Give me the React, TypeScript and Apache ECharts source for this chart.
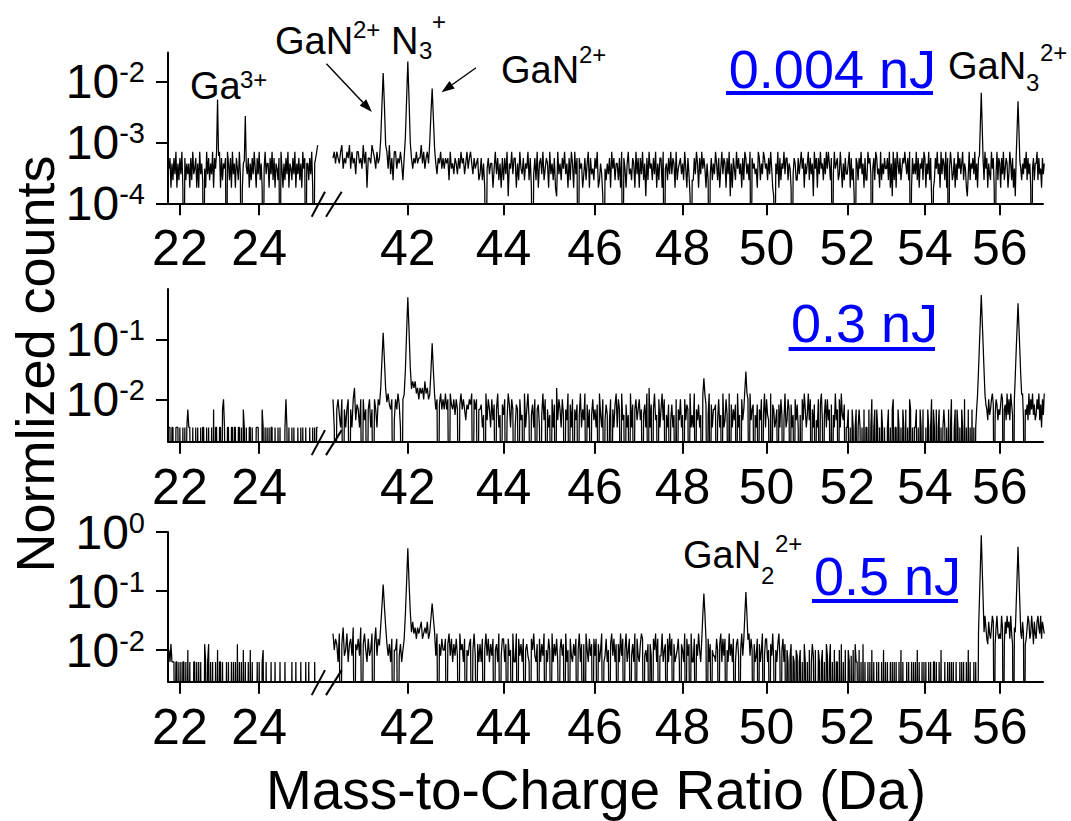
import React, { useEffect, useRef } from "react";
import * as echarts from "echarts";

const FONT = '"Liberation Sans", Arial, Helvetica, sans-serif';

// ---- sampling of the spectra (m/z in Da) ----
const STEP = 0.025;
const LEFT_START = 21.725;
const RIGHT_START = 40.5;

// ---- axis ranges and tick values ----
const LEFT_X_RANGE = [21.7, 25.66];
const RIGHT_X_RANGE = [40.343, 57.19];
const LEFT_X_TICKS = [22, 24];
const RIGHT_X_TICKS = [42, 44, 46, 48, 50, 52, 54, 56];

const Y_RANGE_1 = [0.99999e-4, 0.0295];
const Y_RANGE_2 = [1.97e-3, 0.69];
const Y_RANGE_3 = [2.91e-3, 1.0001];
const Y_TICKS_1 = [1e-4, 1e-3, 1e-2];
const Y_TICKS_2 = [1e-2, 1e-1];
const Y_TICKS_3 = [1e-2, 1e-1, 1];

// ---- background intensity levels; digit d in a trace string selects LEVELS[d] (0 = no ions) ----
const LEVELS_1 = [0, 1.3e-4, 1.8e-4, 2.4e-4, 3.0e-4, 3.7e-4, 4.5e-4, 5.5e-4, 7.0e-4, 9.0e-4];
const LEVELS_2 = [0, 3.4e-3, 4.5e-3, 5.5e-3, 6.8e-3, 8.2e-3, 1.0e-2, 1.25e-2, 1.55e-2, 2.0e-2];
const LEVELS_3 = [0, 6.3e-3, 8.0e-3, 1.0e-2, 1.26e-2, 1.55e-2, 1.9e-2, 2.4e-2, 3.0e-2, 3.8e-2];

// ---- background traces, one digit per 0.025 Da bin ----
const TRACE_1_LEFT = [
  "5726374826", "3748207364", "6273845726", "2846305284", "7364827563",
  "4827365708", "6372846275", "3840265384", "7263748527", "4836205846",
  "6274837265", "3708526374", "8265374826", "4736285706", "6374820678", "9",
].join("");

const TRACE_1_RIGHT = [
  "7868768957", "6879586748", "8675968277", "6987586769", "7868594738",
  "8576863786", "9687576867", "7968578697", "6786476857", "5767385647",
  "6475867468", "5786475673", "4736205746", "6258473627", "3748165847",
  "7263854736", "5837204738", "2674835762", "8463721846", "3758462738",
  "6284707562", "4736827453", "7582364105", "3647285736", "6372807526",
  "8453762847", "2748361738", "5637482637", "7280563748", "4762835674",
  "6385274103", "3748627485", "7526304736", "4863725847", "6274816275",
  "3857462738", "7463807564", "5287364875", "6374852106", "4827365847",
  "7365204763", "3746857264", "6837461857", "2748563748", "5863704856",
  "7348526374", "4682735107", "6375846273", "3867405738", "7452836475",
  "5738261837", "2864735768", "6473802746", "4837265738", "7264837102",
  "3758462847", "6382705863", "4726385746", "8365214836", "5748362758",
  "7463857264", "3857204837", "6274835762", "4863725107", "7285364758",
  "3746205736", "6837452746",
].join("");

const TRACE_2_LEFT = [
  "1101100111", "0100101014", "1100100101", "0010110010", "1001040110",
  "0110461001", "1001101100", "1101041010", "0110100011", "1000410101",
  "0101100100", "1010000161", "0100101000", "1001010010", "0010010101", "1",
].join("");

const TRACE_2_RIGHT = [
  "6104631604", "1460416825", "4160624046", "1406416401", "0746754602",
  "6475106040", "0897989786", "8786978698", "0574605746", "4746075463",
  "6405746425", "4657064604", "4513072641", "6250471305", "3602751640",
  "1540623071", "4720351604", "5103726041", "3061508264", "1630427051",
  "6042503714", "2705140362", "4150731602", "5302604157", "1640723051",
  "3071504624", "6240351708", "1504723061", "4726031502", "5130604261",
  "3062540713", "1704251306", "6250370514", "4502613071", "2630705142",
  "5071306241", "3160724503", "1504260371", "6320705412", "4051630271",
  "2640513062", "5103062741", "3726041502", "1605720361", "6240503172",
  "4061732501", "1401041014", "0141010401", "1040160140", "4101041010",
  "0140104601", "1041010410", "4010640101", "1401041040", "0104101604",
  "1040140101", "4101040160", "0140410104", "1060104010", "4010140104",
  "0536754263", "4675036524", "3576045273", "6275304736", "0463572043",
  "5273647352", "3647251637",
].join("");

const TRACE_3_LEFT = [
  "3141110110", "1010110103", "0100011010", "1010004101", "4010100103",
  "0110100010", "1001010104", "0101030100", "1030100001", "0100130010",
  "0001000100", "0010000100", "0000100010", "0001000010", "0100000100", "0",
].join("");

const TRACE_3_RIGHT = [
  "6354160472", "3614527043", "5270463152", "3604725301", "0435241503",
  "3502413402", "0687867576", "7856768586", "0452604253", "3504625142",
  "5206341503", "2450362041", "4150362514", "2503416025", "5140523061",
  "1605241503", "4210536214", "0514260315", "3061425103", "5240613052",
  "1425036140", "4063152405", "2504136012", "5130462514", "0416250361",
  "3502416052", "1465023140", "4205361502", "2613405162", "5041235104",
  "3160524061", "1504263150", "4260514032", "2153046152", "5031624150",
  "1452036214", "4016253041", "2504136025", "5130426103", "1462035140",
  "3102402103", "2013010410", "1030142030", "0310130104", "2014010301",
  "1030401030", "0310203041", "1030104010", "0101030100", "1010010301",
  "0100101010", "1001030100", "0101001010", "1030100101", "0100101001",
  "1010010300", "0100101010", "1001000101", "0100103010", "0010100100",
  "0465975486", "5798047965", "6597048697", "8596407968", "0679586045",
  "7985697486", "5897695876",
].join("");

// ---- peak profiles [m/z, normalised counts] ----
const PEAKS_1 = [
  [22.925, 7e-4], [22.95, 5.0e-3], [22.975, 6e-4],
  [23.625, 5e-4], [23.65, 2.7e-3], [23.675, 4e-4],
  [41.45, 1.1e-3], [41.475, 4e-3], [41.5, 1.36e-2], [41.525, 4e-3], [41.55, 9e-4],
  [41.95, 1.2e-3], [41.975, 5e-3], [42.0, 2.1e-2], [42.025, 5e-3], [42.05, 1.0e-3],
  [42.45, 1e-3], [42.475, 3e-3], [42.5, 7.6e-3], [42.525, 2.5e-3], [42.55, 8e-4],
  [55.45, 6e-4], [55.475, 2e-3], [55.5, 6.5e-3], [55.525, 1.8e-3], [55.55, 5e-4],
  [56.45, 6e-4], [56.475, 1.6e-3], [56.5, 4.7e-3], [56.525, 1.6e-3], [56.55, 5e-4],
];

const PEAKS_2 = [
  [41.425, 8e-3], [41.45, 0.015], [41.475, 0.045], [41.5, 0.129], [41.525, 0.045], [41.55, 0.015], [41.575, 9e-3],
  [41.925, 0.012], [41.95, 0.03], [41.975, 0.13], [42.0, 0.5], [42.025, 0.14], [42.05, 0.035], [42.075, 0.015],
  [42.45, 0.012], [42.475, 0.03], [42.5, 0.086], [42.525, 0.03], [42.55, 0.012],
  [48.475, 0.012], [48.5, 0.0224], [48.525, 0.012],
  [49.475, 0.014], [49.5, 0.029], [49.525, 0.013],
  [55.4, 0.012], [55.425, 0.03], [55.45, 0.08], [55.475, 0.21], [55.5, 0.55], [55.525, 0.21], [55.55, 0.08], [55.575, 0.03], [55.6, 0.012],
  [56.4, 0.01], [56.425, 0.025], [56.45, 0.065], [56.475, 0.16], [56.5, 0.4], [56.525, 0.16], [56.55, 0.065], [56.575, 0.025], [56.6, 0.012],
];

const PEAKS_3 = [
  [41.425, 0.012], [41.45, 0.025], [41.475, 0.055], [41.5, 0.129], [41.525, 0.055], [41.55, 0.025], [41.575, 0.013],
  [41.925, 0.015], [41.95, 0.04], [41.975, 0.14], [42.0, 0.53], [42.025, 0.14], [42.05, 0.045], [42.075, 0.02],
  [42.45, 0.02], [42.475, 0.035], [42.5, 0.0615], [42.525, 0.035], [42.55, 0.02],
  [48.45, 0.015], [48.475, 0.04], [48.5, 0.091], [48.525, 0.04], [48.55, 0.015],
  [49.45, 0.015], [49.475, 0.04], [49.5, 0.096], [49.525, 0.04], [49.55, 0.015],
  [55.425, 0.02], [55.45, 0.07], [55.475, 0.25], [55.5, 0.88], [55.525, 0.25], [55.55, 0.07], [55.575, 0.02],
  [56.425, 0.02], [56.45, 0.06], [56.475, 0.18], [56.5, 0.56], [56.525, 0.18], [56.55, 0.06], [56.575, 0.02],
];

// ---- layout of the three stacked panels ----
const AXIS_X = 168;
const BREAK_X = 325;
const RIGHT_END = 1043;
const PANEL_TOP = [52.6, 289, 532];
const PANEL_BOTTOM = [203.3, 441.7, 681.7];

function spectrum(start: number, trace: string, levels: number[], floor: number, peaks: number[][]) {
  const pts: number[][] = [];
  for (let k = 0; k < trace.length; k++) {
    const v = levels[Number(trace[k])];
    pts.push([+(start + STEP * k).toFixed(3), v > 0 ? v : floor]);
  }
  for (const [m, v] of peaks) {
    const k = Math.round((m - start) / STEP);
    if (k >= 0 && k < pts.length) pts[k][1] = v;
  }
  return pts;
}

function arrow(x1: number, y1: number, x2: number, y2: number) {
  const a = Math.atan2(y2 - y1, x2 - x1);
  const len = 13;
  const half = 4.5;
  const bx = x2 - len * Math.cos(a);
  const by = y2 - len * Math.sin(a);
  return [
    { type: "line", silent: true, shape: { x1, y1, x2: bx, y2: by }, style: { stroke: "#000", lineWidth: 1.4 } },
    {
      type: "polygon",
      silent: true,
      shape: {
        points: [
          [x2, y2],
          [bx + half * Math.sin(a), by - half * Math.cos(a)],
          [bx - half * Math.sin(a), by + half * Math.cos(a)],
        ],
      },
      style: { fill: "#000" },
    },
  ];
}

function label(text: string, x: number, y: number, size: number, color = "#000", align = "left") {
  return {
    type: "text",
    silent: true,
    x,
    y,
    style: { text, fontSize: size, fontFamily: FONT, fill: color, align, verticalAlign: "middle" },
  };
}

function breakMarks(base: number) {
  return [
    { type: "line", silent: true, shape: { x1: 311.7, y1: base + 13.4, x2: 325, y2: base - 11.6 }, style: { stroke: "#000", lineWidth: 2 } },
    { type: "line", silent: true, shape: { x1: 326, y1: base + 13.4, x2: 341.7, y2: base - 11.6 }, style: { stroke: "#000", lineWidth: 2 } },
  ];
}

function energyLabel(text: string, right: number, cy: number, left: number, lineY: number) {
  return [
    label(text, right, cy, 54, "#0000ff", "right"),
    { type: "rect", silent: true, shape: { x: left, y: lineY, width: right - 3 - left, height: 4 }, style: { fill: "#0000ff" } },
  ];
}

function buildOption() {
  const panels = [
    { range: Y_RANGE_1, ticks: Y_TICKS_1, levels: LEVELS_1, left: TRACE_1_LEFT, right: TRACE_1_RIGHT, peaks: PEAKS_1 },
    { range: Y_RANGE_2, ticks: Y_TICKS_2, levels: LEVELS_2, left: TRACE_2_LEFT, right: TRACE_2_RIGHT, peaks: PEAKS_2 },
    { range: Y_RANGE_3, ticks: Y_TICKS_3, levels: LEVELS_3, left: TRACE_3_LEFT, right: TRACE_3_RIGHT, peaks: PEAKS_3 },
  ];

  const grid: any[] = [];
  const xAxis: any[] = [];
  const yAxis: any[] = [];
  const series: any[] = [];

  const axisLine = { show: true, onZero: false, lineStyle: { color: "#000", width: 2 } };
  const tickStyle = { color: "#000", width: 2 };

  panels.forEach((p, i) => {
    const top = PANEL_TOP[i];
    const height = PANEL_BOTTOM[i] - top;
    const floor = p.range[0] / 100;

    // left segment (22-25 Da) and right segment (40.5-57 Da)
    grid.push({ left: AXIS_X, top, width: BREAK_X - AXIS_X, height, containLabel: false, outerBoundsMode: "none" });
    grid.push({ left: BREAK_X, top, width: RIGHT_END - BREAK_X, height, containLabel: false, outerBoundsMode: "none" });

    const xLabel = { color: "#000", fontSize: 50, fontFamily: FONT, margin: 20 };
    xAxis.push({
      gridIndex: 2 * i,
      type: "value",
      min: LEFT_X_RANGE[0],
      max: LEFT_X_RANGE[1],
      axisLine,
      axisTick: { show: true, customValues: LEFT_X_TICKS, length: 12, lineStyle: tickStyle },
      axisLabel: { ...xLabel, customValues: LEFT_X_TICKS },
      splitLine: { show: false },
    });
    xAxis.push({
      gridIndex: 2 * i + 1,
      type: "log",
      min: RIGHT_X_RANGE[0],
      max: RIGHT_X_RANGE[1],
      axisLine,
      axisTick: { show: true, customValues: RIGHT_X_TICKS, length: 12, lineStyle: tickStyle },
      axisLabel: { ...xLabel, customValues: RIGHT_X_TICKS, formatter: (v: number) => String(Math.round(v)) },
      splitLine: { show: false },
      minorTick: { show: false },
    });

    yAxis.push({
      gridIndex: 2 * i,
      type: "log",
      min: p.range[0],
      max: p.range[1],
      axisLine,
      axisTick: { show: true, customValues: p.ticks, length: 12, lineStyle: tickStyle },
      axisLabel: {
        customValues: p.ticks,
        margin: 23,
        formatter: (v: number) => `{b|10}{s|${Math.round(Math.log10(v))}}`,
        rich: {
          b: { fontSize: 48, fontFamily: FONT, color: "#000", lineHeight: 48 },
          s: { fontSize: 29, fontFamily: FONT, color: "#000", verticalAlign: "top", lineHeight: 30 },
        },
      },
      splitLine: { show: false },
    });
    yAxis.push({ gridIndex: 2 * i + 1, type: "log", min: p.range[0], max: p.range[1], show: false, splitLine: { show: false } });

    const lineStyle = { color: "#000", width: 1.25 };
    series.push({
      type: "line",
      xAxisIndex: 2 * i,
      yAxisIndex: 2 * i,
      data: spectrum(LEFT_START, p.left, p.levels, floor, p.peaks),
      showSymbol: false,
      symbol: "none",
      clip: true,
      lineStyle,
      silent: true,
    });
    series.push({
      type: "line",
      xAxisIndex: 2 * i + 1,
      yAxisIndex: 2 * i + 1,
      data: spectrum(RIGHT_START, p.right, p.levels, floor, p.peaks),
      showSymbol: false,
      symbol: "none",
      clip: true,
      lineStyle,
      silent: true,
    });
  });

  const graphic: any[] = [
    ...breakMarks(PANEL_BOTTOM[0]),
    ...breakMarks(PANEL_BOTTOM[1]),
    ...breakMarks(PANEL_BOTTOM[2]),

    // ion assignments
    label("Ga", 190, 86, 38),
    label("3+", 240, 79, 24),
    label("GaN", 275, 40.5, 38),
    label("2+", 353, 29, 24),
    label("N", 391, 40.5, 38),
    label("3", 419, 50, 24),
    label("+", 432, 21.5, 24),
    label("GaN", 501, 70, 38),
    label("2+", 579, 54, 24),
    label("GaN", 948, 65.5, 38),
    label("3", 1026, 82.5, 24),
    label("2+", 1040, 52.5, 24),
    label("GaN", 683, 555, 38),
    label("2", 761, 575, 24),
    label("2+", 775, 543, 24),
    ...arrow(326.4, 63.7, 371.9, 111.9),
    ...arrow(476, 67.8, 441.5, 92.3),

    // laser pulse energies
    ...energyLabel("0.004 nJ", 936, 68.7, 726, 91),
    ...energyLabel("0.3 nJ", 938, 323.4, 788.6, 347),
    ...energyLabel("0.5 nJ", 961, 576, 812, 599),

    // axis titles
    {
      type: "text",
      silent: true,
      x: 35,
      y: 364,
      rotation: Math.PI / 2,
      style: { text: "Normlized counts", fontSize: 54, fontFamily: FONT, fill: "#000", align: "center", verticalAlign: "middle" },
    },
    label("Mass-to-Charge Ratio (Da)", 596, 790, 55, "#000", "center"),
  ];

  return {
    animation: false,
    backgroundColor: "#fff",
    grid,
    xAxis,
    yAxis,
    series,
    graphic,
  };
}

export default function App() {
  const ref = useRef<HTMLDivElement>(null);
  useEffect(() => {
    if (!ref.current) return;
    const chart = echarts.init(ref.current, undefined, { renderer: "svg" });
    chart.setOption(buildOption() as any);
    return () => chart.dispose();
  }, []);
  return (
    <div
      ref={ref}
      style={{ position: "fixed", left: 0, top: 0, width: 1071, height: 821, background: "#fff" }}
    />
  );
}
